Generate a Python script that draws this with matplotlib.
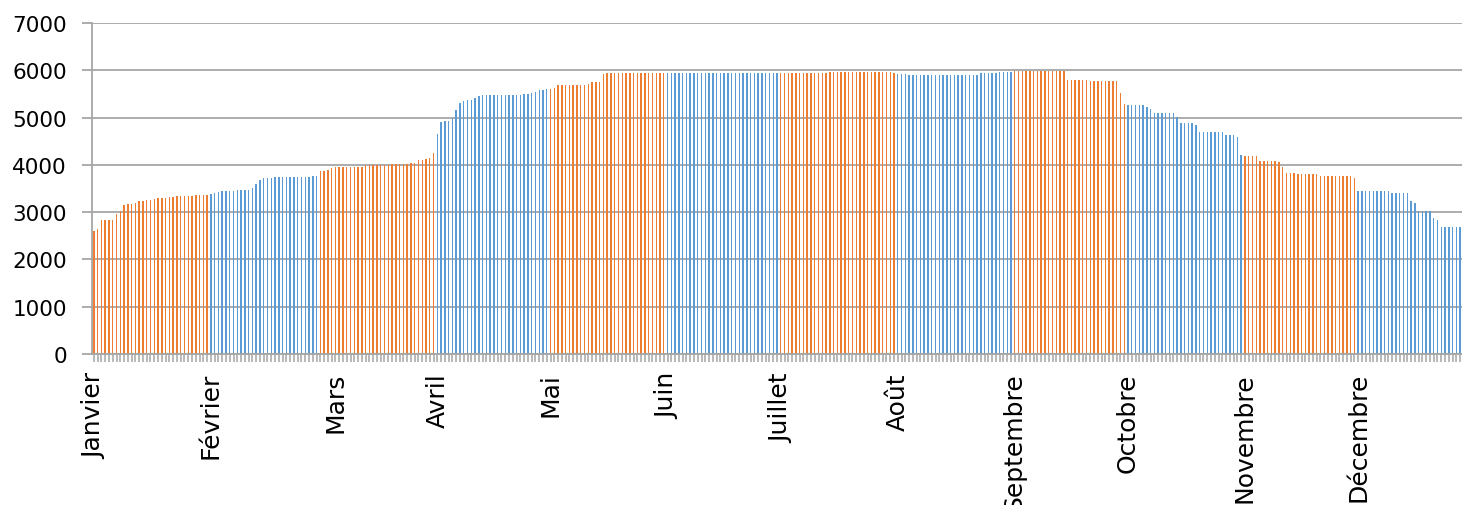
import matplotlib
matplotlib.use("Agg")
import matplotlib.pyplot as plt
import numpy as np

plt.rcParams['font.family'] = ['DejaVu Sans']

months = ["Janvier", "Février", "Mars", "Avril", "Mai", "Juin", "Juillet",
          "Août", "Septembre", "Octobre", "Novembre", "Décembre"]

jan = [2600, 2640, 2830, 2830, 2830, 2830, 2960, 3030, 3150, 3165, 3165, 3190,
       3230, 3230, 3260, 3260, 3280, 3290, 3300, 3300, 3330, 3330, 3340, 3340,
       3340, 3350, 3350, 3360, 3360, 3370, 3370]
feb = [3380, 3400, 3420, 3440, 3450, 3450, 3450, 3460, 3470, 3470, 3470, 3500,
       3600, 3680, 3720, 3730, 3730, 3740, 3740, 3750, 3750, 3750, 3750, 3750,
       3750, 3750, 3750, 3760, 3760]
mar = [3870, 3880, 3900, 3940, 3950, 3950, 3950, 3950, 3950, 3950, 3950, 3960,
       3990, 4000, 4000, 4000, 4000, 4000, 4000, 4010, 4010, 4010, 4020, 4020,
       4030, 4030, 4100, 4100, 4120, 4150, 4250]
apr = [4650, 4900, 4920, 4920, 5000, 5150, 5300, 5350, 5370, 5380, 5420, 5460,
       5470, 5470, 5470, 5470, 5470, 5470, 5470, 5470, 5470, 5470, 5480, 5500,
       5500, 5520, 5550, 5580, 5580, 5600]
may = [5600, 5620, 5680, 5680, 5680, 5680, 5680, 5680, 5680, 5680, 5700, 5750,
       5750, 5760, 5920, 5940, 5940, 5940, 5940, 5940, 5940, 5940, 5940, 5940,
       5940, 5940, 5940, 5940, 5940, 5940, 5940]
jun = [5940] * 30
jul = [5940, 5940, 5940, 5940, 5940, 5940, 5950, 5950, 5950, 5950, 5950, 5950,
       5950, 5960, 5960, 5960, 5960, 5960, 5960, 5960, 5960, 5960, 5960, 5960,
       5960, 5960, 5960, 5960, 5960, 5960, 5950]
aug = [5930, 5930, 5930, 5900, 5900, 5900, 5900, 5900, 5900, 5900, 5900, 5900,
       5900, 5900, 5900, 5900, 5900, 5900, 5900, 5900, 5900, 5910, 5950, 5950,
       5950, 5950, 5950, 5970, 5970, 5970, 5970]
sep = [5980, 5980, 5980, 5980, 5980, 5980, 5980, 5980, 5980, 5980, 5980, 5980,
       5980, 5980, 5800, 5800, 5800, 5800, 5800, 5800, 5780, 5780, 5780, 5780,
       5780, 5780, 5780, 5780, 5520, 5285]
octo = [5265, 5265, 5265, 5265, 5265, 5220, 5180, 5095, 5095, 5095, 5095, 5095,
        5095, 5005, 4885, 4885, 4885, 4885, 4850, 4700, 4700, 4700, 4700, 4700,
        4700, 4700, 4630, 4630, 4630, 4580, 4205]
nov = [4180, 4180, 4180, 4180, 4090, 4090, 4090, 4090, 4090, 4050, 3950, 3825,
       3825, 3825, 3805, 3805, 3805, 3805, 3805, 3805, 3757, 3757, 3757, 3757,
       3757, 3757, 3757, 3757, 3757, 3720]
dec = [3440, 3440, 3440, 3440, 3440, 3440, 3440, 3440, 3440, 3405, 3405, 3405,
       3405, 3405, 3240, 3200, 3015, 3015, 3015, 3015, 2875, 2835, 2685, 2685,
       2685, 2685, 2685, 2685]

month_data = [jan, feb, mar, apr, may, jun, jul, aug, sep, octo, nov, dec]
label_offsets = [0, 0, 4, 0, 0, 0, 0, 0, 0, 0, 0, 0]

orange = "#ED7D31"
blue = "#5B9BD5"

values = []
colors = []
starts = []
for i, d in enumerate(month_data):
    starts.append(len(values))
    values.extend(d)
    colors.extend([orange if i % 2 == 0 else blue] * len(d))

n = len(values)
x = np.arange(n)

W, H = 1462, 506
fig = plt.figure(figsize=(W / 100, H / 100), dpi=100)
ax = fig.add_axes([92 / W, (H - 355) / H, (W - 92) / W, (355 - 24) / H])

grid_c = "#A6A6A6"
ax.set_axisbelow(True)
ax.yaxis.grid(True, color=grid_c, linewidth=1.3)
ax.bar(x, values, width=0.38, color=colors, linewidth=0)

ax.set_xlim(-0.5, n - 0.5)
ax.set_ylim(0, 7000)
ax.set_yticks(np.arange(0, 7001, 1000))

for s in ["top", "right"]:
    ax.spines[s].set_visible(False)
for s in ["left", "bottom"]:
    ax.spines[s].set_color(grid_c)
    ax.spines[s].set_linewidth(1.3)

tick_pos = [starts[i] + label_offsets[i] for i in range(12)]
ax.set_xticks(tick_pos)
ax.set_xticklabels(months, rotation=90, va="top", ha="center")
ax.set_xticks(x, minor=True)
ax.tick_params(axis="x", which="both", length=6, width=1.1, color=grid_c,
               labelsize=18, pad=7)
ax.tick_params(axis="y", which="major", length=7, width=1.3, color=grid_c,
               labelsize=15.5, pad=11)

fig.savefig("out.png", dpi=100)
